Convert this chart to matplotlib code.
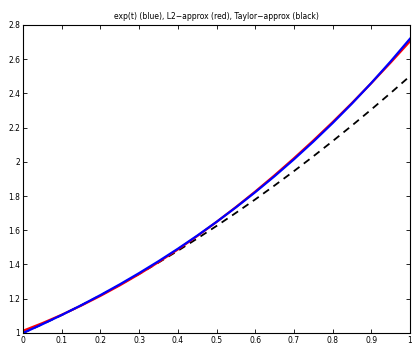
import matplotlib
matplotlib.use("Agg")
import matplotlib.pyplot as plt

t = [0.00, 0.05, 0.10, 0.15, 0.20, 0.25, 0.30, 0.35, 0.40, 0.45, 0.50,
     0.55, 0.60, 0.65, 0.70, 0.75, 0.80, 0.85, 0.90, 0.95, 1.00]
exp_vals = [1.0000, 1.0513, 1.1052, 1.1618, 1.2214, 1.2840, 1.3499, 1.4191,
            1.4918, 1.5683, 1.6487, 1.7333, 1.8221, 1.9155, 2.0138, 2.1170,
            2.2255, 2.3396, 2.4596, 2.5857, 2.7183]
l2_vals = [1.0130, 1.0577, 1.1065, 1.1596, 1.2168, 1.2782, 1.3439, 1.4137,
           1.4877, 1.5659, 1.6484, 1.7350, 1.8258, 1.9208, 2.0200, 2.1234,
           2.2310, 2.3428, 2.4587, 2.5789, 2.7033]
taylor_vals = [1.0000, 1.0513, 1.1050, 1.1613, 1.2200, 1.2813, 1.3450, 1.4113,
               1.4800, 1.5513, 1.6250, 1.7013, 1.7800, 1.8613, 1.9450, 2.0313,
               2.1200, 2.2113, 2.3050, 2.4013, 2.5000]

xticks = [0, 0.1, 0.2, 0.3, 0.4, 0.5, 0.6, 0.7, 0.8, 0.9, 1]
xlabels = ['0', '0.1', '0.2', '0.3', '0.4', '0.5', '0.6', '0.7', '0.8', '0.9', '1']
yticks = [1, 1.2, 1.4, 1.6, 1.8, 2, 2.2, 2.4, 2.6, 2.8]
ylabels = ['1', '1.2', '1.4', '1.6', '1.8', '2', '2.2', '2.4', '2.6', '2.8']

fig = plt.figure(figsize=(4.12, 3.44), dpi=100)
ax = fig.add_axes([0.056, 0.032, 0.939, 0.896])

ax.plot(t, taylor_vals, color='black', linestyle='--', linewidth=1.3, dashes=(4, 3))
ax.plot(t, l2_vals, color='red', linewidth=1.6)
ax.plot(t, exp_vals, color='blue', linewidth=1.6)

ax.set_xlim(0, 1)
ax.set_ylim(1, 2.8)
ax.set_xticks(xticks)
ax.set_xticklabels(xlabels)
ax.set_yticks(yticks)
ax.set_yticklabels(ylabels)
ax.tick_params(direction='in', length=3, width=0.6, labelsize=5.5, pad=2,
               top=True, right=True)
for s in ax.spines.values():
    s.set_linewidth(0.8)

ax.set_title('exp(t) (blue), L2\u2212approx (red), Taylor\u2212approx (black)',
             fontsize=5.5, pad=4)

fig.savefig('out.png', dpi=100)
